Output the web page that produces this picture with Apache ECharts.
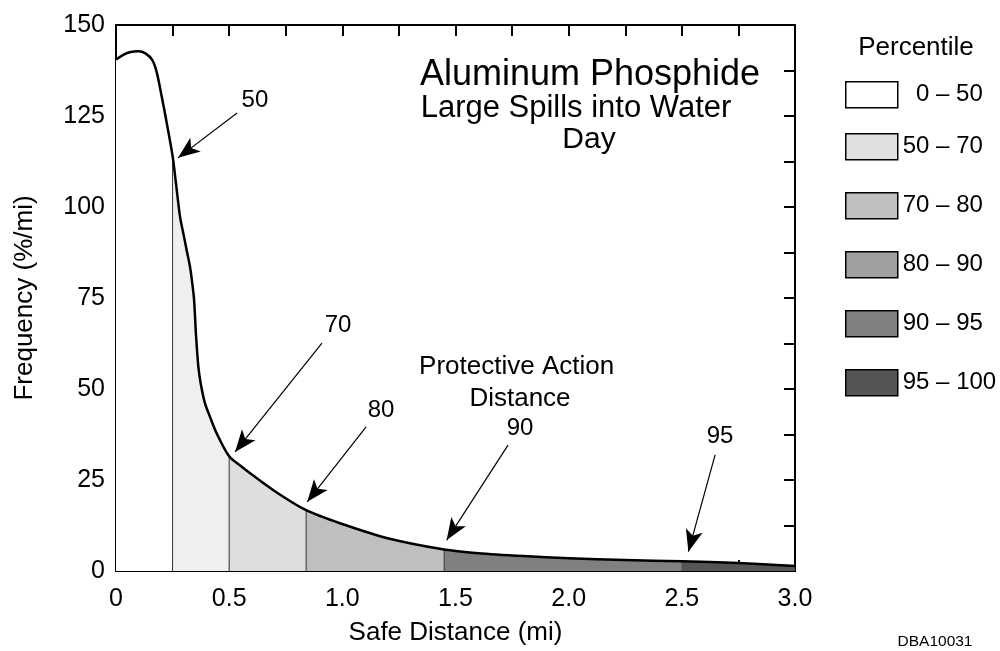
<!DOCTYPE html>
<html>
<head>
<meta charset="utf-8">
<script src="https://cdn.jsdelivr.net/npm/echarts@6/dist/echarts.min.js"></script>
<style>html,body{margin:0;padding:0;background:#fff;}#c{width:1000px;height:651px;}</style>
</head>
<body>
<div id="c"></div>
<script>
// Curve data (Safe distance in mi, frequency in %/mi)
const distances = [0,0.03,0.06,0.1,0.13,0.16,0.18,0.2,0.22,0.25,0.265,0.283,0.3,0.312,0.327,0.337,0.345,0.353,0.358,0.364,0.374,0.393,0.415,0.445,0.5,0.55,0.6,0.7,0.84,1.0,1.2,1.45,1.6,1.8,2.0,2.25,2.5,2.75,3.0];
const frequency = [140.5,141.7,142.5,142.8,142.2,140.4,137,131,124.5,114,106.5,97.3,92,88.2,83.6,79,74.5,65.3,60.7,56.1,51.6,46.1,42.4,37.8,31.5,28.9,26.5,22.0,16.7,12.9,9.0,5.9,4.9,4.1,3.5,3.0,2.7,2.2,1.4];

// Percentile bands
const bandNames = ['  0 \u2013 50','50 \u2013 70','70 \u2013 80','80 \u2013 90','90 \u2013 95','95 \u2013 100'];
const bandStart = [0,0.25,0.5,0.84,1.45,2.5];
const bandEnd = [0.25,0.5,0.84,1.45,2.5,3.0];
const bandFill = ['#ffffff','#efefef','#dedede','#bfbfbf','#808080','#555555'];
const legendFill = ['#ffffff','#e0e0e0','#c0c0c0','#a0a0a0','#808080','#555555'];
const dividers = [0.25,0.5,0.84,1.45];

// Annotations
const annoLabels = ['50','70','80','90','95'];
const arrowTail = [[0.535,125.8],[0.910,62.6],[1.105,39.6],[1.732,34.6],[2.647,31.9]];
const arrowTip = [[0.274,113.5],[0.526,32.7],[0.845,19.0],[1.461,8.5],[2.529,5.3]];
const labelPos = [[0.614,129.4],[0.981,67.6],[1.171,44.2],[1.785,39.2],[2.669,36.9]];
const padText = ['Protective Action','Distance'];
const padPos = [[1.770,56.0],[1.785,47.3]];

const xTicks = {interval:0.25, min:0, max:3};
const yTicks = {interval:12.5, min:0, max:150};

const FONT = 'Liberation Sans, Arial, Helvetica, sans-serif';
const SMOOTH = 0.3;
const curve = distances.map((d,i)=>[d,frequency[i]]);
function yAt(x){ const i = distances.indexOf(x); return frequency[i]; }

const series = [];
bandNames.forEach((name,k)=>{
  series.push({
    name: name, type:'line', smooth:SMOOTH, showSymbol:false, silent:true,
    data: curve.filter(p=>p[0]>=bandStart[k]-1e-9 && p[0]<=bandEnd[k]+1e-9),
    lineStyle:{width:0}, itemStyle:{color:bandFill[k]},
    areaStyle:{color:bandFill[k], opacity:1}, z:1
  });
});
dividers.forEach(x=>{
  series.push({type:'line', showSymbol:false, silent:true, data:[[x,0],[x,yAt(x)]],
    lineStyle:{color:'#333',width:1}, z:2});
});
series.push({
  name:'curve', type:'line', smooth:SMOOTH, showSymbol:false, silent:true,
  data: curve, lineStyle:{color:'#000', width:2.5, join:'round'}, z:5,
  markLine:{
    silent:true, symbol:['none','arrow'], symbolSize:[13,22], animation:false,
    lineStyle:{color:'#000', width:1.2, type:'solid'}, label:{show:false},
    data: arrowTail.map((t,i)=>[{coord:t},{coord:arrowTip[i]}])
  }
});
series.push({
  type:'scatter', symbolSize:0, silent:true, z:6, itemStyle:{opacity:1, color:'#000'},
  data: labelPos.map((p,i)=>({value:p, name:annoLabels[i], label:{fontSize:24}}))
    .concat(padPos.map((p,i)=>({value:p,name:padText[i], label:{fontSize:26}}))),
  label:{show:true, position:'inside', formatter:p=>p.name, color:'#000', opacity:1, fontFamily:FONT}
});

const axisCommon = {
  type:'value', axisLine:{show:true, onZero:false, lineStyle:{color:'#000', width:2}},
  axisTick:{show:true, inside:true, length:11, lineStyle:{color:'#000', width:2}},
  splitLine:{show:false}
};
const tStyle = (s)=>({fontSize:s, fontWeight:'normal', color:'#000', fontFamily:FONT});

const option = {
  animation:false,
  backgroundColor:'#fff',
  grid:{left:116, right:205, top:25, bottom:80, containLabel:false},
  title:[
    {text:'Aluminum Phosphide', left:590, top:57, padding:0, textAlign:'center', textStyle:tStyle(36)},
    {text:'Large Spills into Water', left:576, top:93, padding:0, textAlign:'center', textStyle:tStyle(31)},
    {text:'Day', left:589, top:125, padding:0, textAlign:'center', textStyle:tStyle(30)},
    {text:'Percentile', left:916, top:35, padding:0, textAlign:'center', textStyle:tStyle(26)},
    {text:'DBA10031', left:935, top:634, padding:0, textAlign:'center', textStyle:tStyle(15.5)}
  ],
  legend:[
    {orient:'vertical', left:845, top:81, itemWidth:52, itemHeight:26, itemGap:31.5,
     padding:0, selectedMode:false, icon:'rect',
     textStyle:{fontSize:24, color:'#000', fontFamily:FONT},
     data: bandNames.slice(0,1).map((n,i)=>({name:n, icon:'rect',
       itemStyle:{color:legendFill[i], borderColor:'#000', borderWidth:1.5}}))},
    {orient:'vertical', left:845, top:133, itemWidth:52, itemHeight:26, itemGap:31.5,
     padding:0, selectedMode:false, icon:'rect',
     textStyle:{fontSize:24, color:'#000', fontFamily:FONT},
     data: bandNames.slice(1).map((n,i)=>({name:n, icon:'rect',
       itemStyle:{color:legendFill[i+1], borderColor:'#000', borderWidth:1.5}}))}
  ],
  xAxis:[
    Object.assign({}, axisCommon, xTicks, {position:'bottom',
      name:'Safe Distance (mi)', nameLocation:'middle', nameGap:49,
      nameTextStyle:{fontSize:26, color:'#000', fontFamily:FONT},
      axisLabel:{color:'#000', fontSize:25, fontFamily:FONT, margin:16,
        formatter:v=>{ if (Math.abs(v*2-Math.round(v*2))>1e-6) return ''; return v===0?'0':v.toFixed(1);} }}),
    Object.assign({}, axisCommon, xTicks, {position:'top', axisLabel:{show:false}})
  ],
  yAxis:[
    Object.assign({}, axisCommon, yTicks, {position:'left',
      name:'Frequency (%/mi)', nameLocation:'middle', nameGap:78, nameRotate:90,
      nameTextStyle:{fontSize:26, color:'#000', fontFamily:FONT},
      axisLabel:{color:'#000', fontSize:25, fontFamily:FONT, margin:11,
        formatter:v=>{ if (Math.abs(v/25-Math.round(v/25))>1e-6) return ''; return String(v);} }}),
    Object.assign({}, axisCommon, yTicks, {position:'right', axisLabel:{show:false}})
  ],
  series: series
};
echarts.init(document.getElementById('c')).setOption(option);
</script>
</body>
</html>
